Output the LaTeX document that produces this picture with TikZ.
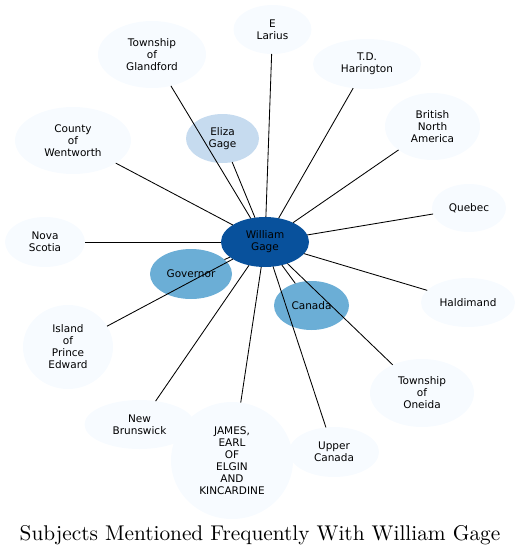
\documentclass[tikz,border=0pt]{standalone}
\usepackage{fontspec}
\newfontfamily\nodefont{DejaVu Sans}
\newfontfamily\titlefont{lmroman10-regular}[Extension=.otf]
\usetikzlibrary{shapes.geometric}
\definecolor{bdark}{HTML}{08519C}
\definecolor{bmid}{HTML}{6BAED6}
\definecolor{blight}{HTML}{C6DBEF}
\definecolor{bpale}{HTML}{F7FBFF}
\tikzset{
  ell/.style={ellipse, inner sep=0pt, outer sep=0pt, draw=none, align=center,
    font=\nodefont\fontsize{10.5}{12}\selectfont},
  sz/.style 2 args={minimum width=#1pt, minimum height=#2pt},
  pale/.style={ell, fill=bpale},
  lite/.style={ell, fill=blight},
  mid/.style={ell, fill=bmid},
  dark/.style={ell, fill=bdark},
  link/.style={draw=black, line width=0.85pt},
}
\begin{document}
\begin{tikzpicture}[x=1pt,y=-1pt]
\useasboundingbox (0,0) rectangle (520,555);
\node[dark, sz={88}{50}] (wg) at (265,242) {William\\Gage};
\node[lite, sz={73}{49}] (eg) at (222.5,138.5) {Eliza\\Gage};
\node[mid, sz={82}{50}] (gov) at (191,274) {Governor};
\node[mid, sz={75}{49}] (can) at (311.5,305.5) {Canada};
\node[pale, sz={78}{49}] (el) at (272.5,29.5) {E\\Larius};
\node[pale, sz={108}{67}] (tg) at (152,54.5) {Township\\of\\Glandford};
\node[pale, sz={108}{50}] (tdh) at (367,64) {T.D.\\Harington};
\node[pale, sz={95}{67}] (bna) at (432.5,126.5) {British\\North\\America};
\node[pale, sz={116}{67}] (cw) at (73,140.5) {County\\of\\Wentworth};
\node[pale, sz={74}{48}] (qu) at (469,208) {Quebec};
\node[pale, sz={80}{50}] (ns) at (45,242) {Nova\\Scotia};
\node[pale, sz={94}{49}] (hal) at (468,302.5) {Haldimand};
\node[pale, sz={90}{84}] (ipe) at (68,347) {Island\\of\\Prince\\Edward};
\node[pale, sz={104}{68}] (to) at (422,393) {Township\\of\\Oneida};
\node[pale, sz={110}{49}] (nb) at (139.5,424.5) {New\\Brunswick};
\node[pale, sz={90}{50}] (uc) at (334,452) {Upper\\Canada};
\node[pale, sz={122}{117}] (jam) at (232,460.5) {JAMES,\\EARL\\OF\\ELGIN\\AND\\KINCARDINE};
\foreach \t in {eg,gov,can,el,tg,tdh,bna,cw,qu,ns,hal,ipe,to,nb,uc,jam}
  \draw[link] (wg) -- (\t);
\node[font=\titlefont\fontsize{21.3}{25}\selectfont, anchor=base] (title) at (260,540) {Subjects Mentioned Frequently With William Gage};
\end{tikzpicture}
\end{document}
